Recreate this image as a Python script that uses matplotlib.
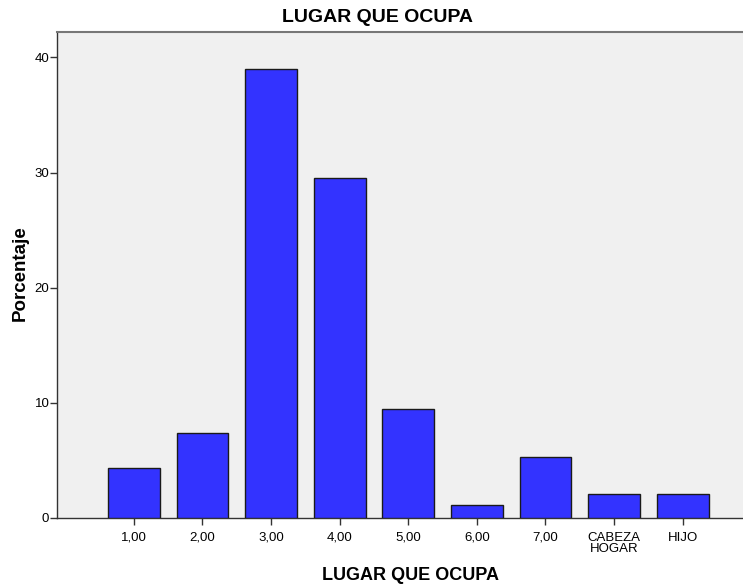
import matplotlib
matplotlib.use("Agg")
import matplotlib.pyplot as plt

categories = ["1,00", "2,00", "3,00", "4,00", "5,00", "6,00", "7,00", "CABEZA\nHOGAR", "HIJO"]
values = [4.3, 7.4, 39.0, 29.5, 9.5, 1.1, 5.3, 2.1, 2.1]
yticks = [0, 10, 20, 30, 40]

plt.rcParams['font.family'] = ['Liberation Sans', 'DejaVu Sans']

W, H = 743, 585
fig = plt.figure(figsize=(W/100, H/100), dpi=100)
left, right, top, bottom = 57, 743, 32, 518
ax = fig.add_axes([left/W, 1-bottom/H, (right-left)/W, (bottom-top)/H])
ax.set_facecolor('#F0F0F0')

x = list(range(len(categories)))
ax.bar(x, values, width=0.755, color='#3333FF', edgecolor='#1a1a1a', linewidth=1.0, zorder=3)

ax.set_xlim(-1.12, 8.88)
ax.set_ylim(0, 42.2)
ax.set_yticks(yticks)
ax.set_yticklabels([str(t) for t in yticks], fontsize=9.5)
ax.set_xticks(x)
ax.set_xticklabels(categories, fontsize=9.5, linespacing=0.85)

ax.tick_params(axis='both', direction='out', length=5, width=1, color='#333333')
ax.tick_params(axis='y', pad=0.5)
ax.tick_params(axis='x', pad=5)

for s in ['left', 'bottom']:
    ax.spines[s].set_color('#333333')
    ax.spines[s].set_linewidth(1.0)
ax.spines['top'].set_color('#777777')
ax.spines['top'].set_linewidth(1.5)
ax.spines['right'].set_visible(False)

fig.text(378/W, 1-17/H, "LUGAR QUE OCUPA", ha='center', va='center', fontsize=14, fontweight='bold')
fig.text(411/W, 1-576/H, "LUGAR QUE OCUPA", ha='center', va='center', fontsize=13, fontweight='bold')
fig.text(20/W, 1-273/H, "Porcentaje", ha='center', va='center', rotation=90, fontsize=13.5, fontweight='bold')

fig.savefig("out.png", dpi=100)
